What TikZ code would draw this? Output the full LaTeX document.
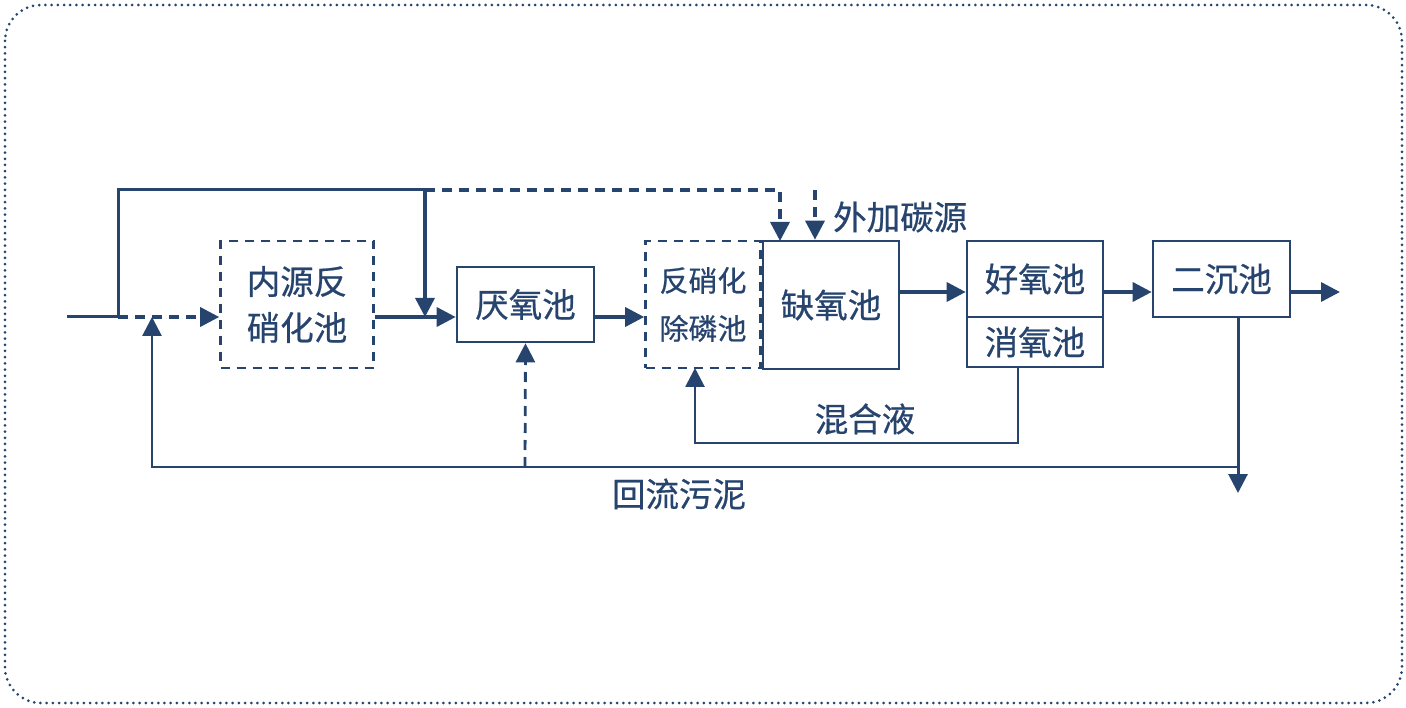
\documentclass[tikz,border=0pt]{standalone}
\usepackage{fontspec}
\setmainfont{Noto Sans CJK SC}[FakeBold=0.6]
\usetikzlibrary{arrows.meta}
\definecolor{flow}{RGB}{38,68,110}

\begin{document}
\begin{tikzpicture}[x=1pt,y=-1pt,
 pool/.style ={draw=flow,line width=2.6pt,inner sep=0pt,text=flow,font=\fontsize{33.5}{46}\selectfont},
 optpool/.style ={pool,dash pattern=on 9pt off 7pt},
 pipe/.style ={draw=flow,line width=3.4pt,-{Triangle[length=19pt,width=19pt]}},
 optpipe/.style ={pipe,dash pattern=on 10pt off 7pt},
 plain/.style ={draw=flow,line width=3pt},
 caption/.style ={text=flow,font=\fontsize{33.5}{40}\selectfont,inner sep=0pt}
 ]
\useasboundingbox (0,0) rectangle (1406,708);
%draw outer frame
\draw[flow,line width=3pt,line cap=round,dash pattern=on 0pt off 6.2pt,rounded corners=36pt] (5,5) rectangle (1402,703);
%draw pools
\node[optpool,minimum width=153pt,minimum height=127pt,align=center] (endo) at (297,304.5) {内源反\\硝化池};
\node[pool,minimum width=137pt,minimum height=75pt] (ana) at (525.5,304.5) {厌氧池};
\node[optpool,minimum width=115pt,minimum height=127pt,align=center,font=\fontsize{29}{48}\selectfont] (dpr) at (703,304.5) {反硝化\\除磷池};
\node[pool,minimum width=136pt,minimum height=128pt] (anox) at (831,305) {缺氧池};
\node[pool,minimum width=136pt,minimum height=76pt] (aer) at (1035,279) {好氧池};
\node[pool,minimum width=136pt,minimum height=50pt] (deox) at (1035,342) {消氧池};
\node[pool,minimum width=137pt,minimum height=76pt] (sec) at (1221.5,279) {二沉池};
%named points of the pipes
\coordinate (in) at (67,317);
\coordinate (split) at (118,317);
\coordinate (bypass) at (425,190);
\coordinate (carbon) at (815,190);
\coordinate (effl) at (1103,292);
\coordinate (out) at (1340,292);
\coordinate (sludge) at (1238,467);
\coordinate (waste) at (1238,493);
\coordinate (mixed) at (1018,443);
%draw main line
\draw[plain] (in) -- (split);
\draw[optpipe] (split) -- (endo.west |- split);
\draw[pipe] (endo.east |- split) -- (ana.west |- split);
\draw[pipe] (ana.east |- split) -- (dpr.west |- split);
\draw[pipe] (anox.east |- effl) -- (aer.west |- effl);
\draw[pipe] (effl) -- (sec.west |- effl);
\draw[pipe] (sec.east |- out) -- (out);
%draw bypass of raw water
\draw[plain] (split) -- (split |- bypass) -- (bypass);
\draw[pipe] (bypass) -- (bypass |- split);
\draw[optpipe] (bypass) -- (780,190) -- (780,241);
%draw external carbon source
\draw[optpipe] (carbon) -- (carbon |- anox.north);
\node[caption,anchor=west] (carbontext) at (833,217) {外加碳源};
%draw mixed liquor return
\draw[pipe,line width=2.8pt] (deox.south -| mixed) -- (mixed) -- (695,443) -- (695,368);
\node[caption] (mixedtext) at (865,419) {混合液};
%draw sludge return
\draw[pipe,line width=3pt] (sec.south -| sludge) -- (waste);
\draw[pipe,line width=2.8pt] (sludge) -- (152,467) -- (152,317);
\draw[optpipe,line width=2.8pt] (525,467) -- (ana.south);
\node[caption] (sludgetext) at (679,494) {回流污泥};
\end{tikzpicture}
\end{document}
